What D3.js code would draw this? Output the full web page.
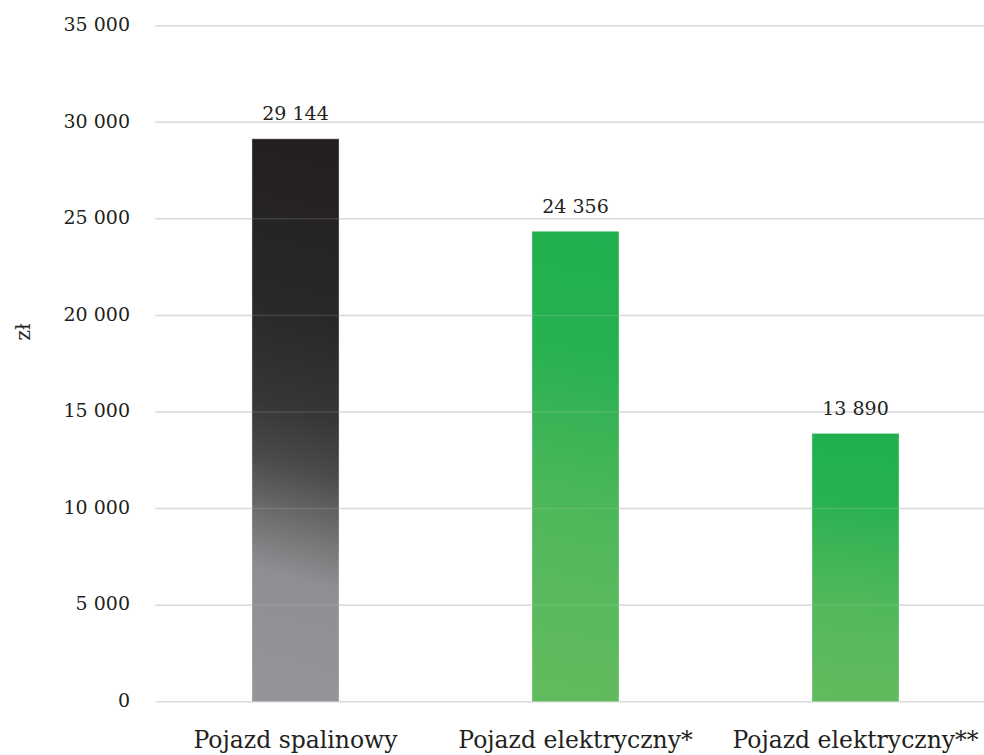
<!DOCTYPE html>
<html>
<head>
<meta charset="utf-8">
<script src="https://cdn.jsdelivr.net/npm/d3@7"></script>
<style>
  html, body { margin: 0; padding: 0; background: #fff; }
  svg { display: block; }
  text { font-family: "DejaVu Serif", serif; fill: #231f20; }
</style>
</head>
<body>
<svg id="chart" width="984" height="755"></svg>
<script>
// Roczny koszt użytkowania pojazdu (zł)
const categories = ["Pojazd spalinowy", "Pojazd elektryczny*", "Pojazd elektryczny**"];
const values = [29144, 24356, 13890];
const gradientIds = ["gradDark", "gradGreen", "gradGreen"];
const yTicks = [0, 5000, 10000, 15000, 20000, 25000, 30000, 35000];
const yLabel = "zł";

const W = 984, H = 755;
const plot = { left: 155.5, right: 995.5, top: 25.7, bottom: 701.7 };

const svg = d3.select("#chart");

// Gradients for the bars
const defs = svg.append("defs");
function addGradient(id, stops) {
  const g = defs.append("linearGradient")
    .attr("id", id)
    .attr("x1", 0.52).attr("y1", 0)
    .attr("x2", 0.48).attr("y2", 1);
  stops.forEach(([o, c]) => g.append("stop").attr("offset", o).attr("stop-color", c));
}
addGradient("gradDark", [
  [0, "#231f20"], [0.3, "#292728"], [0.48, "#363637"], [0.58, "#4a4a4c"],
  [0.64, "#5f5f61"], [0.70, "#747476"], [0.78, "#8e8f92"], [1, "#939598"]
]);
addGradient("gradGreen", [
  [0, "#21b04f"], [0.25, "#27b150"], [0.42, "#3bb456"], [0.57, "#4bb75a"],
  [0.71, "#55b95c"], [0.92, "#5fba5e"], [1, "#61bb5e"]
]);

const x = d3.scaleBand()
  .domain(categories)
  .range([plot.left, plot.right])
  .paddingInner(0.689)
  .paddingOuter(0.3445);

const y = d3.scaleLinear()
  .domain([0, 35000])
  .range([plot.bottom, plot.top]);

const fmt = v => d3.format(",")(v).replace(/,/g, " ");

// Horizontal gridlines
const grid = svg.append("g").attr("class", "grid");
grid.selectAll("line").data(yTicks).join("line")
  .attr("x1", plot.left).attr("x2", W)
  .attr("y1", d => y(d)).attr("y2", d => y(d))
  .attr("stroke", "#d9d9d9").attr("stroke-width", 1.5);

// Bars
svg.append("g").selectAll("rect").data(values).join("rect")
  .attr("x", (d, i) => x(categories[i]))
  .attr("width", x.bandwidth())
  .attr("y", d => y(d))
  .attr("height", d => y(0) - y(d))
  .attr("fill", (d, i) => `url(#${gradientIds[i]})`)
  .attr("stroke", "rgba(255,255,255,0.35)")
  .attr("stroke-width", 1);

// Gridlines faintly visible across the bars
svg.append("g").selectAll("line").data(yTicks.filter(t => t > 0)).join("line")
  .attr("x1", plot.left).attr("x2", W)
  .attr("y1", d => y(d)).attr("y2", d => y(d))
  .attr("stroke", "#d9d9d9").attr("stroke-width", 1.5).attr("opacity", 0.15);

// Y axis tick labels
const yAxis = d3.axisLeft(y).tickValues(yTicks).tickFormat(fmt).tickSize(0).tickPadding(0);
const yG = svg.append("g").attr("transform", "translate(130,0)").call(yAxis);
yG.select(".domain").remove();
yG.selectAll("text")
  .style("font-size", "19px")
  .attr("dy", "0.25em")
  .attr("fill", "#231f20");

// Category labels
const xAxis = d3.axisBottom(x).tickSize(0).tickPadding(0);
const xG = svg.append("g").attr("transform", `translate(0,${plot.bottom})`).call(xAxis);
xG.select(".domain").remove();
xG.selectAll("text")
  .attr("y", 46.5).attr("dy", null)
  .style("font-size", "23.5px")
  .attr("fill", "#231f20");

// Value labels
svg.append("g").selectAll("text").data(values).join("text")
  .attr("x", (d, i) => x(categories[i]) + x.bandwidth() / 2)
  .attr("y", d => y(d) - 18.5)
  .attr("text-anchor", "middle")
  .style("font-size", "19px")
  .text(fmt);

// Y axis title
svg.append("text")
  .attr("transform", "translate(30,332) rotate(-90)")
  .attr("text-anchor", "middle")
  .style("font-size", "20px")
  .text(yLabel);
</script>
</body>
</html>
